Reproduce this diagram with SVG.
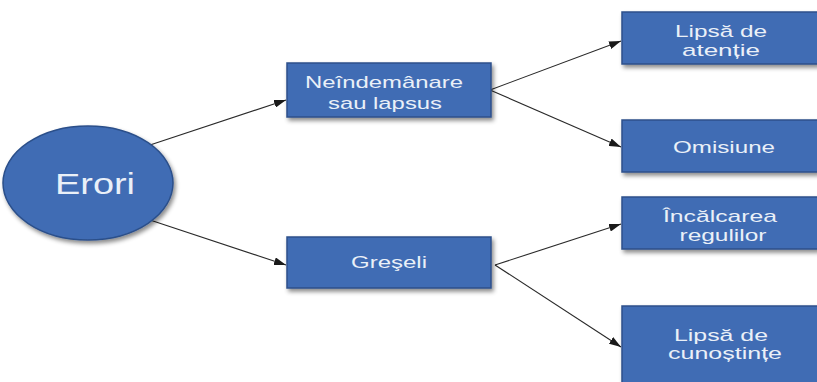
<svg xmlns="http://www.w3.org/2000/svg" width="817" height="382" viewBox="0 0 817 382">
<defs>
<style>
.node{fill:#3f6cb4;stroke:#2c4f8a;stroke-width:1.5;filter:url(#sh)}
.t{fill:#eaf0f8;font-family:"Liberation Sans",Arial,sans-serif;text-anchor:middle}
.c{stroke:#2a2a2a;stroke-width:1.1;fill:none;marker-end:url(#ah)}
</style>
<filter id="sh" x="-10%" y="-10%" width="125%" height="135%">
<feDropShadow dx="2" dy="3" stdDeviation="2" flood-color="#000" flood-opacity="0.45"/>
</filter>
<marker id="ah" viewBox="0 0 12 8" refX="12" refY="4" markerWidth="12" markerHeight="8" markerUnits="userSpaceOnUse" orient="auto">
<path d="M0,0 L12,4 L0,8 Z" fill="#1a1a1a"/>
</marker>
</defs>
<rect width="817" height="382" fill="#ffffff"/>
<g id="connectors">
<line class="c" x1="150" y1="145" x2="286" y2="100"/>
<line class="c" x1="150" y1="220" x2="286" y2="265"/>
<line class="c" x1="490" y1="90" x2="621" y2="41"/>
<line class="c" x1="490" y1="90" x2="621" y2="147"/>
<line class="c" x1="495" y1="265" x2="621" y2="224"/>
<line class="c" x1="495" y1="265" x2="621" y2="347"/>
</g>
<g id="erori">
<ellipse class="node" cx="88" cy="183" rx="85" ry="57"/>
<text class="t" x="95" y="194" font-size="29" textLength="80" lengthAdjust="spacingAndGlyphs">Erori</text>
</g>
<g id="neindemanare">
<rect class="node" x="287" y="63" width="204" height="54"/>
<text class="t" x="384" y="88" font-size="17" textLength="158" lengthAdjust="spacingAndGlyphs">Neîndemânare</text>
<text class="t" x="385" y="109" font-size="17" textLength="114" lengthAdjust="spacingAndGlyphs">sau lapsus</text>
</g>
<g id="greseli">
<rect class="node" x="287" y="237" width="204" height="51"/>
<text class="t" x="389" y="268" font-size="17" textLength="76" lengthAdjust="spacingAndGlyphs">Greşeli</text>
</g>
<g id="lipsa-atentie">
<rect class="node" x="622" y="12" width="196" height="52"/>
<text class="t" x="721" y="37" font-size="17" textLength="92" lengthAdjust="spacingAndGlyphs">Lipsă de</text>
<text class="t" x="721" y="56" font-size="17" textLength="78" lengthAdjust="spacingAndGlyphs">atenție</text>
</g>
<g id="omisiune">
<rect class="node" x="622" y="120" width="196" height="52"/>
<text class="t" x="724" y="153" font-size="17" textLength="102" lengthAdjust="spacingAndGlyphs">Omisiune</text>
</g>
<g id="incalcarea">
<rect class="node" x="622" y="197" width="196" height="52"/>
<text class="t" x="720" y="222" font-size="17" textLength="114" lengthAdjust="spacingAndGlyphs">Încălcarea</text>
<text class="t" x="723" y="241" font-size="17" textLength="87" lengthAdjust="spacingAndGlyphs">regulilor</text>
</g>
<g id="lipsa-cunostinte">
<rect class="node" x="622" y="306" width="196" height="90"/>
<text class="t" x="721" y="341" font-size="17" textLength="94" lengthAdjust="spacingAndGlyphs">Lipsă de</text>
<text class="t" x="725" y="359" font-size="17" textLength="114" lengthAdjust="spacingAndGlyphs">cunoștințe</text>
</g>
</svg>
